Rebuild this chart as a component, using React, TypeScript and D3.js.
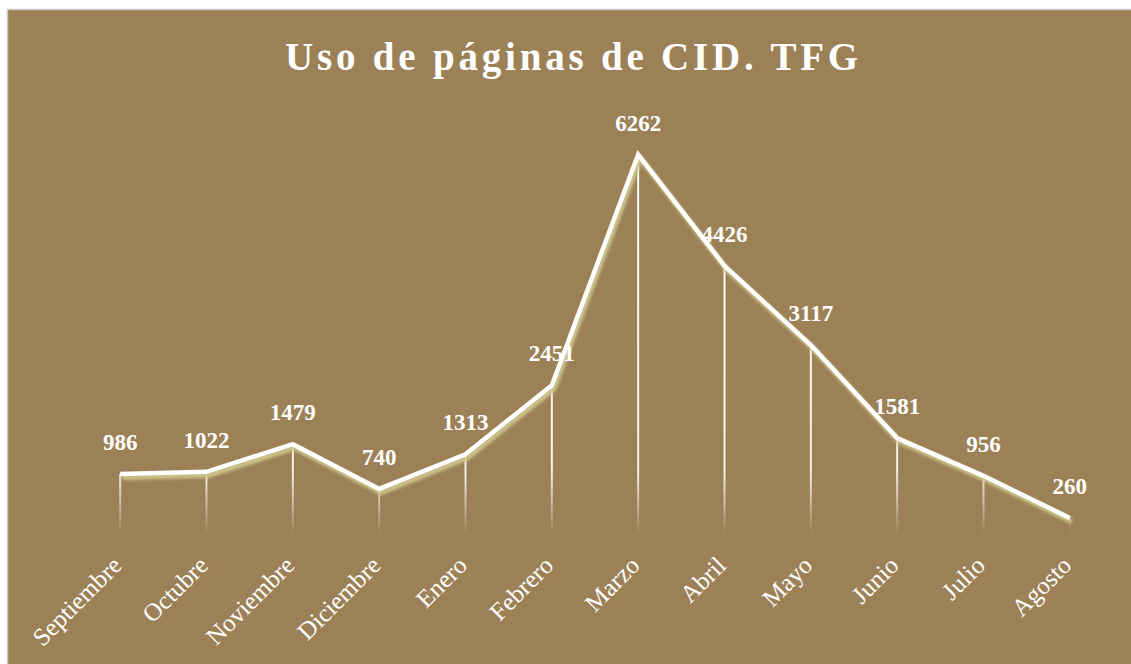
import React from "react";
import * as d3 from "d3";

const categories = ["Septiembre","Octubre","Noviembre","Diciembre","Enero","Febrero","Marzo","Abril","Mayo","Junio","Julio","Agosto"];
const values = [986,1022,1479,740,1313,2451,6262,4426,3117,1581,956,260];
const title = "Uso de páginas de CID. TFG";

const W = 1131, H = 664;
const FONT = "'Liberation Serif', 'Times New Roman', serif";

export default function App() {
  const x = d3.scaleBand<string>().domain(categories).range([77, 1113]);
  const y = d3.scaleLinear().domain([0, 7000]).range([533.7, 110]);
  const cx = (c: string) => (x(c) as number) + x.bandwidth() / 2;
  const line = d3.line<number>().x((_, i) => cx(categories[i])).y(v => y(v));
  const path = line(values) as string;
  return (
    <svg width={W} height={H} style={{ position: "absolute", left: 0, top: 0 }}>
      <defs>
        <linearGradient id="drop" gradientUnits="userSpaceOnUse" x1="0" y1={y(7000)} x2="0" y2={y(0)}>
          <stop offset="0%" stopColor="#ffffff" stopOpacity={1} />
          <stop offset="85%" stopColor="#f6f2ea" stopOpacity={1} />
          <stop offset="100%" stopColor="#ffffff" stopOpacity={0} />
        </linearGradient>
        <filter id="blur" x="-10%" y="-10%" width="120%" height="120%">
          <feGaussianBlur stdDeviation="1.4" />
        </filter>
      </defs>
      <rect x={7.5} y={9.5} width={1130} height={660} fill="#9C8157" stroke="#c9c9c9" strokeWidth={1.5} />
      <text x={573.5} y={70} textAnchor="middle" fill="#ffffff" fontFamily={FONT} fontWeight="bold" fontSize={39} letterSpacing={3.8}>{title}</text>
      {values.map((v, i) => (
        <line key={"d" + i} x1={cx(categories[i])} x2={cx(categories[i])} y1={y(v)} y2={y(0)} stroke="url(#drop)" strokeWidth={2} />
      ))}
      <path d={path} fill="none" stroke="#cdc68a" strokeWidth={5} transform="translate(2,3.5)" filter="url(#blur)" strokeLinejoin="round" />
      <path d={path} fill="none" stroke="#ffffff" strokeWidth={4.5} strokeLinejoin="miter" />
      {values.map((v, i) => (
        <text key={"v" + i} x={cx(categories[i])} y={y(v) - 24} textAnchor="middle" fill="#ffffff" fontFamily={FONT} fontWeight="bold" fontSize={23}>{v}</text>
      ))}
      {categories.map((c) => (
        <text key={c} transform={`translate(${cx(c) + 3},${567}) rotate(-45)`} textAnchor="end" fill="#ffffff" fontFamily={FONT} fontSize={25}>{c}</text>
      ))}
    </svg>
  );
}
